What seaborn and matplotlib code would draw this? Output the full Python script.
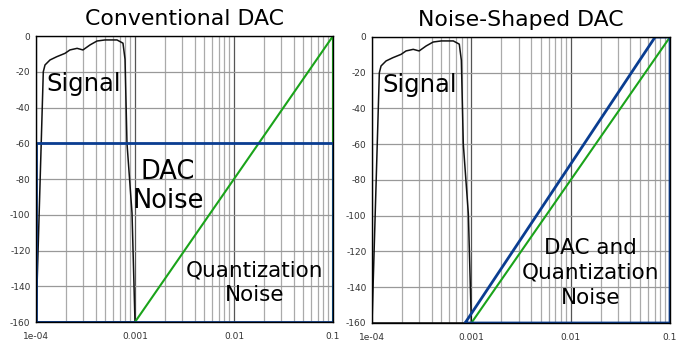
#!/usr/bin/python

import numpy as np
import pandas as pd
import seaborn as sns
import matplotlib
matplotlib.use('Agg')
import matplotlib.pyplot as plt
from matplotlib.ticker import FixedLocator, LogLocator, NullFormatter

# Signal spectrum (closed outline, back along the floor)
signal_freq = [1.0e-4, 1.185e-4, 1.233e-4, 1.385e-4, 1.618e-4, 1.963e-4, 2.2e-4, 2.6e-4,
               2.98e-4, 3.51e-4, 4.13e-4, 4.98e-4, 6.58e-4, 7.56e-4, 7.93e-4, 8.3e-4,
               9.33e-4, 1.0e-3, 1.0e-4]
signal_db = [-160, -20, -16.2, -13.4, -11.6, -9.7, -7.8, -6.9,
             -7.8, -5.0, -2.8, -2.2, -2.2, -4.0, -13.0, -60,
             -99, -160, -160]

# Quantization noise
quant_freq = [1.0e-3, 0.1, 0.1]
quant_db = [-160, 0, -160]

# DAC noise, conventional (flat at -60 dB)
dac_flat_freq = [1.0e-4, 1.0e-4, 0.1, 0.1, 1.0e-4]
dac_flat_db = [-160, -60, -60, -160, -160]

# DAC + quantization noise, noise shaped
dac_shaped_freq = [8.65e-4, 7.08e-2, 0.1, 0.1, 8.65e-4]
dac_shaped_db = [-160, 0, 0, -160, -160]

x_ticks = [1e-4, 1e-3, 1e-2, 1e-1]
x_tick_labels = ['1e-04', '0.001', '0.01', '0.1']
y_ticks = [0, -20, -40, -60, -80, -100, -120, -140, -160]

BLACK = '#111111'
GREEN = '#1aa31a'
BLUE = '#0a3d91'


def draw_line(ax, freq, db, color, lw):
    df = pd.DataFrame({'f': freq, 'db': db})
    sns.lineplot(data=df, x='f', y='db', ax=ax, sort=False, estimator=None,
                 color=color, lw=lw, legend=False)


def setup_axes(ax, title):
    ax.set_xscale('log')
    ax.set_xlim(1e-4, 0.1)
    ax.set_ylim(-160, 0)
    ax.xaxis.set_major_locator(FixedLocator(x_ticks))
    ax.set_xticklabels(x_tick_labels)
    ax.xaxis.set_minor_locator(LogLocator(base=10, subs=np.arange(2, 10)))
    ax.xaxis.set_minor_formatter(NullFormatter())
    ax.set_yticks(y_ticks)
    ax.set_yticklabels([str(v) for v in y_ticks])
    ax.grid(True, which='major', axis='x', color='#555555', lw=0.9)
    ax.grid(True, which='minor', axis='x', color='#aaaaaa', lw=0.9)
    ax.grid(True, which='major', axis='y', color='#999999', lw=0.9)
    ax.tick_params(axis='both', which='both', length=0, labelsize=6.5,
                   labelcolor='#333333', pad=4)
    ax.tick_params(axis='x', pad=7)
    ax.set_xlabel('')
    ax.set_ylabel('')
    for s in ax.spines.values():
        s.set_color('black')
        s.set_linewidth(1.0)
    ax.set_title(title, fontsize=15.8, pad=8, color='black')
    ax.set_axisbelow(True)


sns.set_style('white')
plt.rcParams['font.family'] = ['DejaVu Sans']
plt.rcParams['text.color'] = 'black'

fig = plt.figure(figsize=(6.87, 3.41), dpi=100)
ax1 = fig.add_axes([0.0524, 0.0557, 0.4323, 0.8387])
ax2 = fig.add_axes([0.5415, 0.0528, 0.4338, 0.8387])

# Left: conventional DAC
draw_line(ax1, signal_freq, signal_db, BLACK, 1.1)
draw_line(ax1, quant_freq, quant_db, GREEN, 1.5)
draw_line(ax1, dac_flat_freq, dac_flat_db, BLUE, 2.0)
setup_axes(ax1, 'Conventional DAC')
ax1.text(3.05e-4, -27, 'Signal', fontsize=17.5, ha='center', va='center')
ax1.text(2.15e-3, -84, 'DAC\nNoise', fontsize=18.5, ha='center', va='center',
         linespacing=1.15)
ax1.text(1.6e-2, -138, 'Quantization\nNoise', fontsize=15.5, ha='center', va='center',
         linespacing=1.3)

# Right: noise-shaped DAC
draw_line(ax2, signal_freq, signal_db, BLACK, 1.1)
draw_line(ax2, quant_freq, quant_db, GREEN, 1.5)
draw_line(ax2, dac_shaped_freq, dac_shaped_db, BLUE, 2.0)
setup_axes(ax2, 'Noise-Shaped DAC')
ax2.text(3.05e-4, -27, 'Signal', fontsize=17.5, ha='center', va='center')
ax2.text(1.57e-2, -132, 'DAC and\nQuantization\nNoise', fontsize=15.5, ha='center',
         va='center', linespacing=1.3)

plt.savefig('out.png', dpi=100)
plt.close()
